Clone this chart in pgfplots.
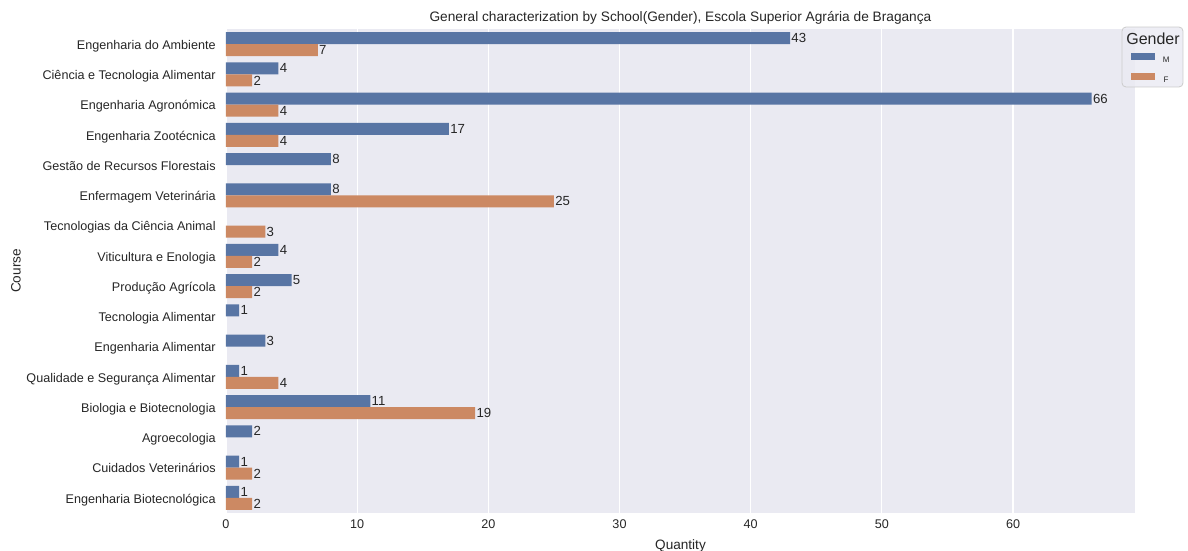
\documentclass[border=0pt]{standalone}
\usepackage{fontspec}
\setmainfont{Liberation Sans}
\usepackage{pgfplots}
\pgfplotsset{compat=1.18}
\definecolor{bgc}{HTML}{EAEAF2}
\definecolor{mblue}{HTML}{5875A4}
\definecolor{forange}{HTML}{CC8963}
\definecolor{txt}{HTML}{262626}
\begin{document}
\begin{tikzpicture}[font=\fontsize{6.3}{7.5}\selectfont, text=txt]
\useasboundingbox (-113pt,-19pt) rectangle (481pt,256.5pt);
\begin{axis}[
  at={(0,0)}, anchor=south west,
  width=454.5pt, height=242pt, scale only axis,
  /pgf/number format/assume math mode=true,
  xbar, bar width=0.4,
  y dir=reverse, ymin=-0.5, ymax=15.5, xmin=0, xmax=69.3,
  ytick={0,...,15},
  yticklabels={Engenharia do Ambiente, Ciência e Tecnologia Alimentar, Engenharia Agronómica, Engenharia Zootécnica, Gestão de Recursos Florestais, Enfermagem Veterinária, Tecnologias da Ciência Animal, Viticultura e Enologia, Produção Agrícola, Tecnologia Alimentar, Engenharia Alimentar, Qualidade e Segurança Alimentar, Biologia e Biotecnologia, Agroecologia, Cuidados Veterinários, Engenharia Biotecnológica},
  xtick={0,10,...,60},
  axis background/.style={fill=bgc},
  axis line style={draw=none},
  major tick length=0pt,
  xmajorgrids, grid style={white, line width=0.6pt},
  clip=false,
  ticklabel style={font=\fontsize{6.3}{7.5}\selectfont, text=txt},
  xticklabel style={anchor=base, yshift=-7.5pt, inner sep=0pt},
  yticklabel style={anchor=mid east, xshift=-5pt, inner sep=0pt},
  title={General characterization by School(Gender), Escola Superior Agrária de Bragança},
  title style={at={(axis description cs:0.5,1)}, anchor=base, yshift=-2.5pt, font=\fontsize{6.85}{8}\selectfont, text=txt},
  xlabel={Quantity},
  xlabel style={at={(axis description cs:0.5,0)}, anchor=base, yshift=-18pt, font=\fontsize{6.8}{8}\selectfont, text=txt},
  ylabel={Course},
  ylabel style={at={(axis description cs:-0.231,0.5)}, anchor=center, font=\fontsize{6.8}{8}\selectfont, text=txt},
  nodes near coords,
  every node near coord/.append style={font=\fontsize{6.6}{7.8}\selectfont, text=txt, anchor=west, inner sep=0.5pt},
  legend style={draw=none, fill=none, inner sep=0pt, outer sep=0pt,
    at={(axis description cs:0.9956,0.9500)}, anchor=north west,
    font=\fontsize{4}{4.8}\selectfont, text=txt, row sep=4.8pt,
    nodes={inner sep=0.5pt, text height=2.8pt, text depth=0pt},
    /tikz/every odd column/.append style={column sep=3.4pt}},
]
\addplot[fill=mblue, draw=none, bar shift=-0.2,
  legend image code/.code={\fill[mblue] (0pt,-0.35pt) rectangle (12pt,3.15pt);}]
  coordinates {(43,0) (4,1) (66,2) (17,3) (8,4) (8,5) (4,7) (5,8) (1,9) (3,10) (1,11) (11,12) (2,13) (1,14) (1,15)};
\addplot[fill=forange, draw=none, bar shift=0.2,
  legend image code/.code={\fill[forange] (0pt,-0.35pt) rectangle (12pt,3.15pt);}]
  coordinates {(7,0) (2,1) (4,2) (4,3) (25,5) (3,6) (2,7) (2,8) (4,11) (19,12) (2,14) (2,15)};
\legend{M,F}
\draw[fill=bgc, fill opacity=0.8, draw=white!80!black, line width=0.4pt, rounded corners=2pt]
  (axis description cs:0.9857,1.0041) rectangle (axis description cs:1.0528,0.8802);
\node[font=\fontsize{8}{9.6}\selectfont, text=txt, inner sep=0pt] at (axis description cs:1.0198,0.979) {Gender};
\end{axis}
\end{tikzpicture}
\end{document}
